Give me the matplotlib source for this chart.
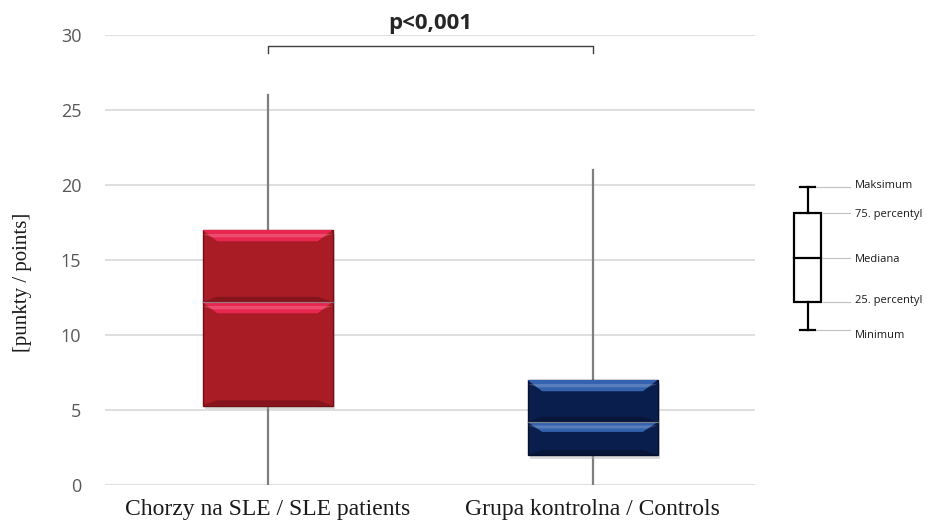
import matplotlib
matplotlib.use("Agg")
import matplotlib.pyplot as plt
from matplotlib.patches import Rectangle, Polygon
from matplotlib.lines import Line2D

categories = ["Chorzy na SLE / SLE patients", "Grupa kontrolna / Controls"]
mins = [0, 0]
q1s = [5.3, 2.0]
medians = [12.2, 4.2]
q3s = [17.0, 7.0]
maxs = [26, 21]
base_colors = ["#A91C25", "#0A1E4E"]
light_colors = ["#E8264F", "#3562AE"]
edge_colors = ["#6E0F16", "#050F2C"]
yticks = [0, 5, 10, 15, 20, 25, 30]
p_text = "p<0,001"
ylabel = "[punkty / points]"
legend_labels = ["Maksimum", "75. percentyl", "Mediana", "25. percentyl", "Minimum"]

fig = plt.figure(figsize=(9.34, 5.25), dpi=100)
ax = fig.add_axes([105/934, 1-485/525, 650/934, 450/525])
ax.set_xlim(0, 2)
ax.set_ylim(0, 30)
for s in ax.spines.values():
    s.set_visible(False)
ax.set_yticks(yticks)
ax.set_yticklabels([str(t) for t in yticks], family="Open Sans", fontsize=13, color="#595959")
ax.tick_params(axis="y", length=0, pad=17)
ax.tick_params(axis="x", length=0, pad=10)
ax.set_xticks([0.5, 1.5])
ax.set_xticklabels(categories, family="Liberation Serif", fontsize=17, color="#1a1a1a")
for t in yticks:
    ax.axhline(t, color="#d9d9d9", lw=1.2, zorder=0)
ax.set_ylabel(ylabel, family="Liberation Serif", fontsize=15, color="#1a1a1a")
ax.yaxis.set_label_coords(-73/650, 203/450)

hw = 0.2
for i in range(2):
    x = 0.5 + i
    ax.plot([x, x], [mins[i], q1s[i]], color="#7f7f7f", lw=1.6, zorder=1)
    ax.plot([x, x], [q3s[i], maxs[i]], color="#7f7f7f", lw=1.6, zorder=1)
    # shadow
    ax.add_patch(Rectangle((x - hw + 0.008, q1s[i] - 0.25), 2*hw, q3s[i] - q1s[i],
                           facecolor="#b0b0b0", alpha=0.45, edgecolor="none", zorder=2))
    for lo, hi in [(q1s[i], medians[i]), (medians[i], q3s[i])]:
        ax.add_patch(Rectangle((x - hw, lo), 2*hw, hi - lo, facecolor=base_colors[i],
                               edgecolor=edge_colors[i], lw=1.0, zorder=3))
        bh = min(0.75, (hi - lo) * 0.3)
        ax.add_patch(Polygon([[x - hw, hi], [x + hw, hi], [x + hw - 0.045, hi - bh], [x - hw + 0.045, hi - bh]],
                             closed=True, facecolor=light_colors[i], edgecolor="none", zorder=4))
        ax.add_patch(Polygon([[x - hw, hi - bh*0.35], [x + hw, hi - bh*0.35], [x + hw - 0.03, hi - bh*0.65], [x - hw + 0.03, hi - bh*0.65]],
                             closed=True, facecolor="white", alpha=0.18, edgecolor="none", zorder=5))
        ax.add_patch(Polygon([[x - hw, lo], [x + hw, lo], [x + hw - 0.045, lo + 0.35], [x - hw + 0.045, lo + 0.35]],
                             closed=True, facecolor=edge_colors[i], alpha=0.6, edgecolor="none", zorder=4))
    ax.plot([x - hw, x + hw], [medians[i], medians[i]], color="#8a8a8a", lw=0.9, alpha=0.8, zorder=6)

# significance bracket
ax.plot([0.5, 0.5, 1.5, 1.5], [28.8, 29.3, 29.3, 28.8], color="#404040", lw=1.0, clip_on=False, zorder=6)
ax.text(1.0, 30.75, p_text, ha="center", va="center", family="Open Sans", fontweight="bold",
        fontsize=16, color="#262626", clip_on=False)

# legend diagram (figure pixel coordinates)
def fx(px): return px / 934
def fy(py): return 1 - py / 525
leg_y = [187, 213, 258, 302, 330]
txt_y = [186, 215, 260, 300, 336]
bx0, bx1, cx = 794, 821, 807.5
fig.add_artist(Line2D([fx(cx)]*2, [fy(187), fy(213)], color="black", lw=1.6))
fig.add_artist(Line2D([fx(cx)]*2, [fy(302), fy(330)], color="black", lw=1.6))
fig.add_artist(Line2D([fx(800), fx(815)], [fy(187)]*2, color="black", lw=1.6))
fig.add_artist(Line2D([fx(800), fx(815)], [fy(330)]*2, color="black", lw=1.6))
fig.add_artist(Rectangle((fx(bx0), fy(302)), fx(bx1) - fx(bx0), fy(213) - fy(302),
                         transform=fig.transFigure, facecolor="white", edgecolor="black", lw=1.6))
fig.add_artist(Line2D([fx(bx0), fx(bx1)], [fy(258)]*2, color="black", lw=1.6))
for yy, ty, lab in zip(leg_y, txt_y, legend_labels):
    x0 = 816 if lab in ("Maksimum", "Minimum") else 823
    fig.add_artist(Line2D([fx(x0), fx(850)], [fy(yy)]*2, color="#c0c0c0", lw=0.8))
    fig.text(fx(855), fy(ty), lab, ha="left", va="center", family="Open Sans", fontsize=8, color="#1a1a1a")

fig.savefig("out.png", dpi=100, facecolor="white")
